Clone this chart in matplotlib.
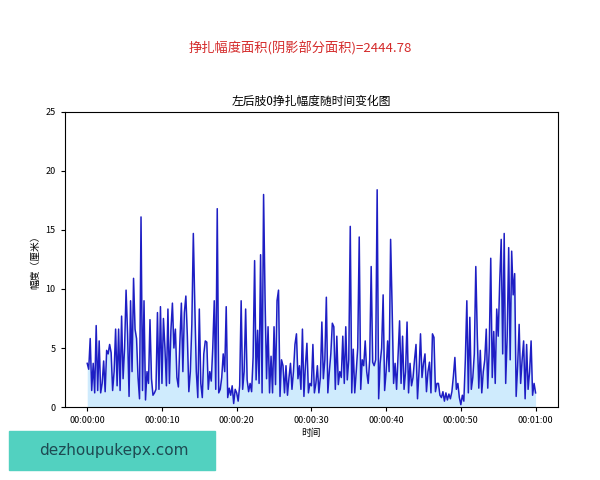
import numpy as np
import matplotlib
matplotlib.use("Agg")
import matplotlib.pyplot as plt
from matplotlib.patches import Rectangle

plt.rcParams['font.family'] = ['Noto Sans CJK SC', 'DejaVu Sans']
plt.rcParams['axes.unicode_minus'] = False

# amplitude samples every 0.2 s, split into 10 s chunks
seg_00 = [3.7, 3.2, 5.8, 1.4, 3.7, 1.2, 6.9, 1.4, 5.6, 1.2,
          2.0, 3.9, 1.3, 4.8, 4.5, 5.3, 4.6, 1.4, 3.0, 6.6,
          1.8, 6.6, 1.4, 7.7, 2.4, 5.0, 9.9, 6.2, 0.9, 9.0,
          3.0, 10.9, 6.6, 5.8, 2.5, 0.7, 16.1, 1.4, 9.0, 0.6,
          3.0, 2.0, 7.4, 2.4, 1.0, 1.2, 1.5, 8.0, 1.5, 8.5]
seg_10 = [2.0, 7.5, 5.0, 1.8, 8.3, 2.0, 6.5, 8.8, 5.0, 6.6,
          2.5, 1.7, 5.5, 8.8, 3.0, 8.0, 9.4, 6.0, 1.3, 3.0,
          7.0, 14.7, 8.5, 3.0, 0.8, 8.3, 2.0, 0.8, 4.5, 5.6,
          5.5, 1.5, 3.0, 2.2, 5.0, 9.0, 1.5, 16.8, 1.2, 1.5,
          2.5, 4.5, 3.0, 8.5, 0.8, 1.6, 1.0, 1.8, 0.3, 1.5]
seg_20 = [1.2, 0.5, 1.8, 9.0, 1.5, 3.0, 8.3, 2.3, 1.3, 2.0,
          1.3, 4.2, 12.4, 2.3, 6.5, 2.0, 12.9, 1.2, 18.0, 9.1,
          2.4, 6.8, 1.2, 4.3, 1.2, 6.8, 1.9, 9.0, 9.9, 0.9,
          4.0, 3.5, 1.2, 3.5, 1.0, 2.5, 3.7, 1.5, 3.0, 5.3,
          6.2, 2.4, 3.5, 1.5, 6.6, 0.9, 3.5, 5.4, 1.2, 2.0]
seg_30 = [1.8, 5.3, 1.2, 2.0, 3.5, 1.2, 2.5, 7.2, 2.4, 4.0,
          9.3, 1.2, 3.0, 4.5, 7.1, 6.8, 1.5, 6.0, 1.9, 3.0,
          2.5, 6.0, 2.0, 6.8, 2.3, 4.0, 15.3, 1.2, 4.9, 1.2,
          3.0, 5.0, 14.4, 1.5, 4.0, 3.5, 5.6, 3.0, 2.0, 4.0,
          11.9, 3.8, 3.5, 4.0, 18.4, 0.7, 3.7, 5.0, 9.5, 1.4]
seg_40 = [3.0, 5.6, 3.0, 14.2, 8.5, 2.0, 3.7, 1.5, 4.5, 7.3,
          2.0, 6.0, 1.5, 3.0, 7.2, 1.2, 3.7, 1.8, 2.5, 4.0,
          5.3, 0.7, 3.0, 6.2, 2.5, 3.7, 4.5, 1.3, 3.0, 3.8,
          1.2, 6.2, 5.9, 1.3, 2.0, 2.0, 1.0, 0.8, 1.3, 0.5,
          1.2, 0.6, 1.1, 0.7, 1.3, 2.6, 4.2, 1.5, 2.0, 0.8]
seg_50 = [0.2, 1.0, 0.5, 4.0, 9.0, 1.2, 7.6, 1.5, 2.5, 4.5,
          11.9, 6.0, 1.6, 4.8, 1.2, 3.0, 4.0, 6.6, 1.6, 5.0,
          12.6, 2.5, 6.4, 2.0, 8.3, 6.0, 10.6, 14.2, 4.5, 14.7,
          2.0, 6.0, 13.5, 4.0, 13.2, 9.5, 11.3, 0.9, 3.5, 7.0,
          2.0, 4.0, 5.6, 0.7, 5.3, 1.5, 3.0, 5.6, 1.0, 2.0,
          1.2]

amplitude = np.array(seg_00 + seg_10 + seg_20 + seg_30 + seg_40 + seg_50)
seconds = np.arange(len(amplitude)) * 0.2

tick_secs = [0, 10, 20, 30, 40, 50, 60]
tick_labels = ['00:00:00', '00:00:10', '00:00:20', '00:00:30',
               '00:00:40', '00:00:50', '00:01:00']
area_text = '挣扎幅度面积(阴影部分面积)=2444.78'


def main():
    fig = plt.figure(figsize=(6, 4.8), dpi=100)
    ax = fig.add_axes([0.108, 0.152, 0.822, 0.615])

    ax.plot(seconds, amplitude, color='#1e1ec4', linewidth=1.1)
    ax.fill_between(seconds, amplitude, color='lightskyblue', alpha=0.4, linewidth=0)

    ax.set_ylim(0, 25)
    ax.set_xticks(tick_secs)
    ax.set_xticklabels(tick_labels)
    ax.tick_params(labelsize=6.5, length=3)
    ax.set_title('左后肢0挣扎幅度随时间变化图', fontsize=8.5, pad=5)
    ax.set_xlabel('时间', fontsize=7, labelpad=2)
    ax.set_ylabel('幅度（厘米）', fontsize=7, labelpad=4)

    fig.text(0.5, 0.9, area_text, color='#d42a2a', fontsize=9.5,
             ha='center', va='center')

    # watermark block in the lower left corner
    fig.patches.append(Rectangle((0.015, 0.02), 0.343, 0.082,
                                 transform=fig.transFigure, color='#52d1c0',
                                 zorder=5))
    fig.text(0.19, 0.061, 'dezhoupukepx.com', color='#1e4a52', fontsize=11,
             ha='center', va='center', family='DejaVu Sans', zorder=6)

    fig.savefig('out.png')


if __name__ == '__main__':
    main()
